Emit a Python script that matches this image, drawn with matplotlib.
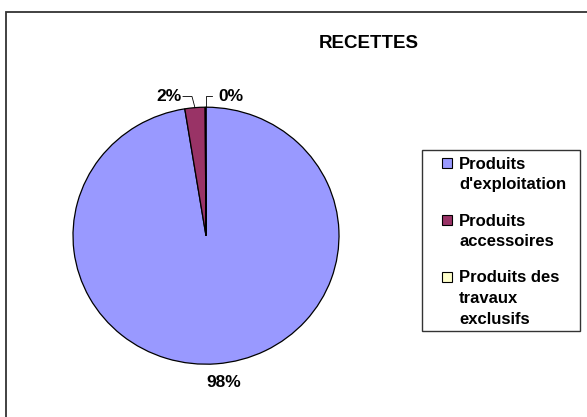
import matplotlib
matplotlib.use("Agg")
import matplotlib.pyplot as plt
from matplotlib.patches import Rectangle
import numpy as np

plt.rcParams['font.family'] = ['Liberation Sans', 'DejaVu Sans']

title = "RECETTES"
categories = ["Produits\nd'exploitation", "Produits\naccessoires", "Produits des\ntravaux\nexclusifs"]
values = [97.45, 2.45, 0.1]
pct_labels = ["98%", "2%", "0%"]
colors = ["#9999FF", "#993366", "#FFFFCC"]

W, H = 587, 417
fig = plt.figure(figsize=(W / 100, H / 100), dpi=100)


def fx(px):
    return px / W


def fy(py):
    return 1 - py / H


# outer chart frame (only top and left edges inside the picture)
fig.patches.append(Rectangle((fx(6), fy(440)), 620 / W, 428 / H, transform=fig.transFigure,
                             fill=False, edgecolor="#333333", linewidth=1.3))

cx, cy, rx, ry = 206, 235.7, 133, 128.5
ax = fig.add_axes([fx(cx - rx), fy(cy + ry), 2 * rx / W, 2 * ry / H])
wedges, _ = ax.pie(values, colors=colors, startangle=90, counterclock=False, radius=1,
                   wedgeprops=dict(edgecolor="black", linewidth=0.9))
ax.set_xlim(-1, 1)
ax.set_ylim(-1, 1)
ax.set_aspect("auto")
ax.axis("off")


def dx(px):
    return (px - cx) / rx


def dy(py):
    return (cy - py) / ry


fs = 12.5
ax.text(dx(206), dy(382.5), pct_labels[0], ha="left", va="center", fontsize=fs, fontweight="bold")

ty = dy(96.5)
# 2% label with leader line
w1 = wedges[1]
a1 = np.deg2rad((w1.theta1 + w1.theta2) / 2)
ax.plot([np.cos(a1), dx(192), dx(183)], [np.sin(a1), ty, ty], color="black", linewidth=0.6,
        clip_on=False)
ax.text(dx(182), ty, pct_labels[1], ha="right", va="center", fontsize=fs, fontweight="bold")

# 0% label with leader line
w2 = wedges[2]
a2 = np.deg2rad((w2.theta1 + w2.theta2) / 2)
ax.plot([np.cos(a2), np.cos(a2), dx(212)], [np.sin(a2), ty, ty], color="black", linewidth=0.6,
        clip_on=False)
ax.text(dx(218), ty, pct_labels[2], ha="left", va="center", fontsize=fs, fontweight="bold")

fig.text(fx(369), fy(44), title, ha="center", va="center", fontsize=13.5, fontweight="bold")

# legend (manual)
fig.patches.append(Rectangle((fx(422), fy(331)), 158 / W, 181 / H, transform=fig.transFigure,
                             fill=False, edgecolor="#333333", linewidth=1.0))
leg_fs = 12
line_pitch = 20.7
first_line_centers = [162.7, 219.5, 276.5]
for cat, col, yc in zip(categories, colors, first_line_centers):
    fig.patches.append(Rectangle((fx(442), fy(yc + 5)), 10 / W, 10 / H, transform=fig.transFigure,
                                 facecolor=col, edgecolor="black", linewidth=0.8))
    for i, line in enumerate(cat.split("\n")):
        fig.text(fx(459), fy(yc + 6 + i * line_pitch), line, ha="left", va="baseline",
                 fontsize=leg_fs, fontweight="bold")

fig.savefig("out.png", dpi=100)
